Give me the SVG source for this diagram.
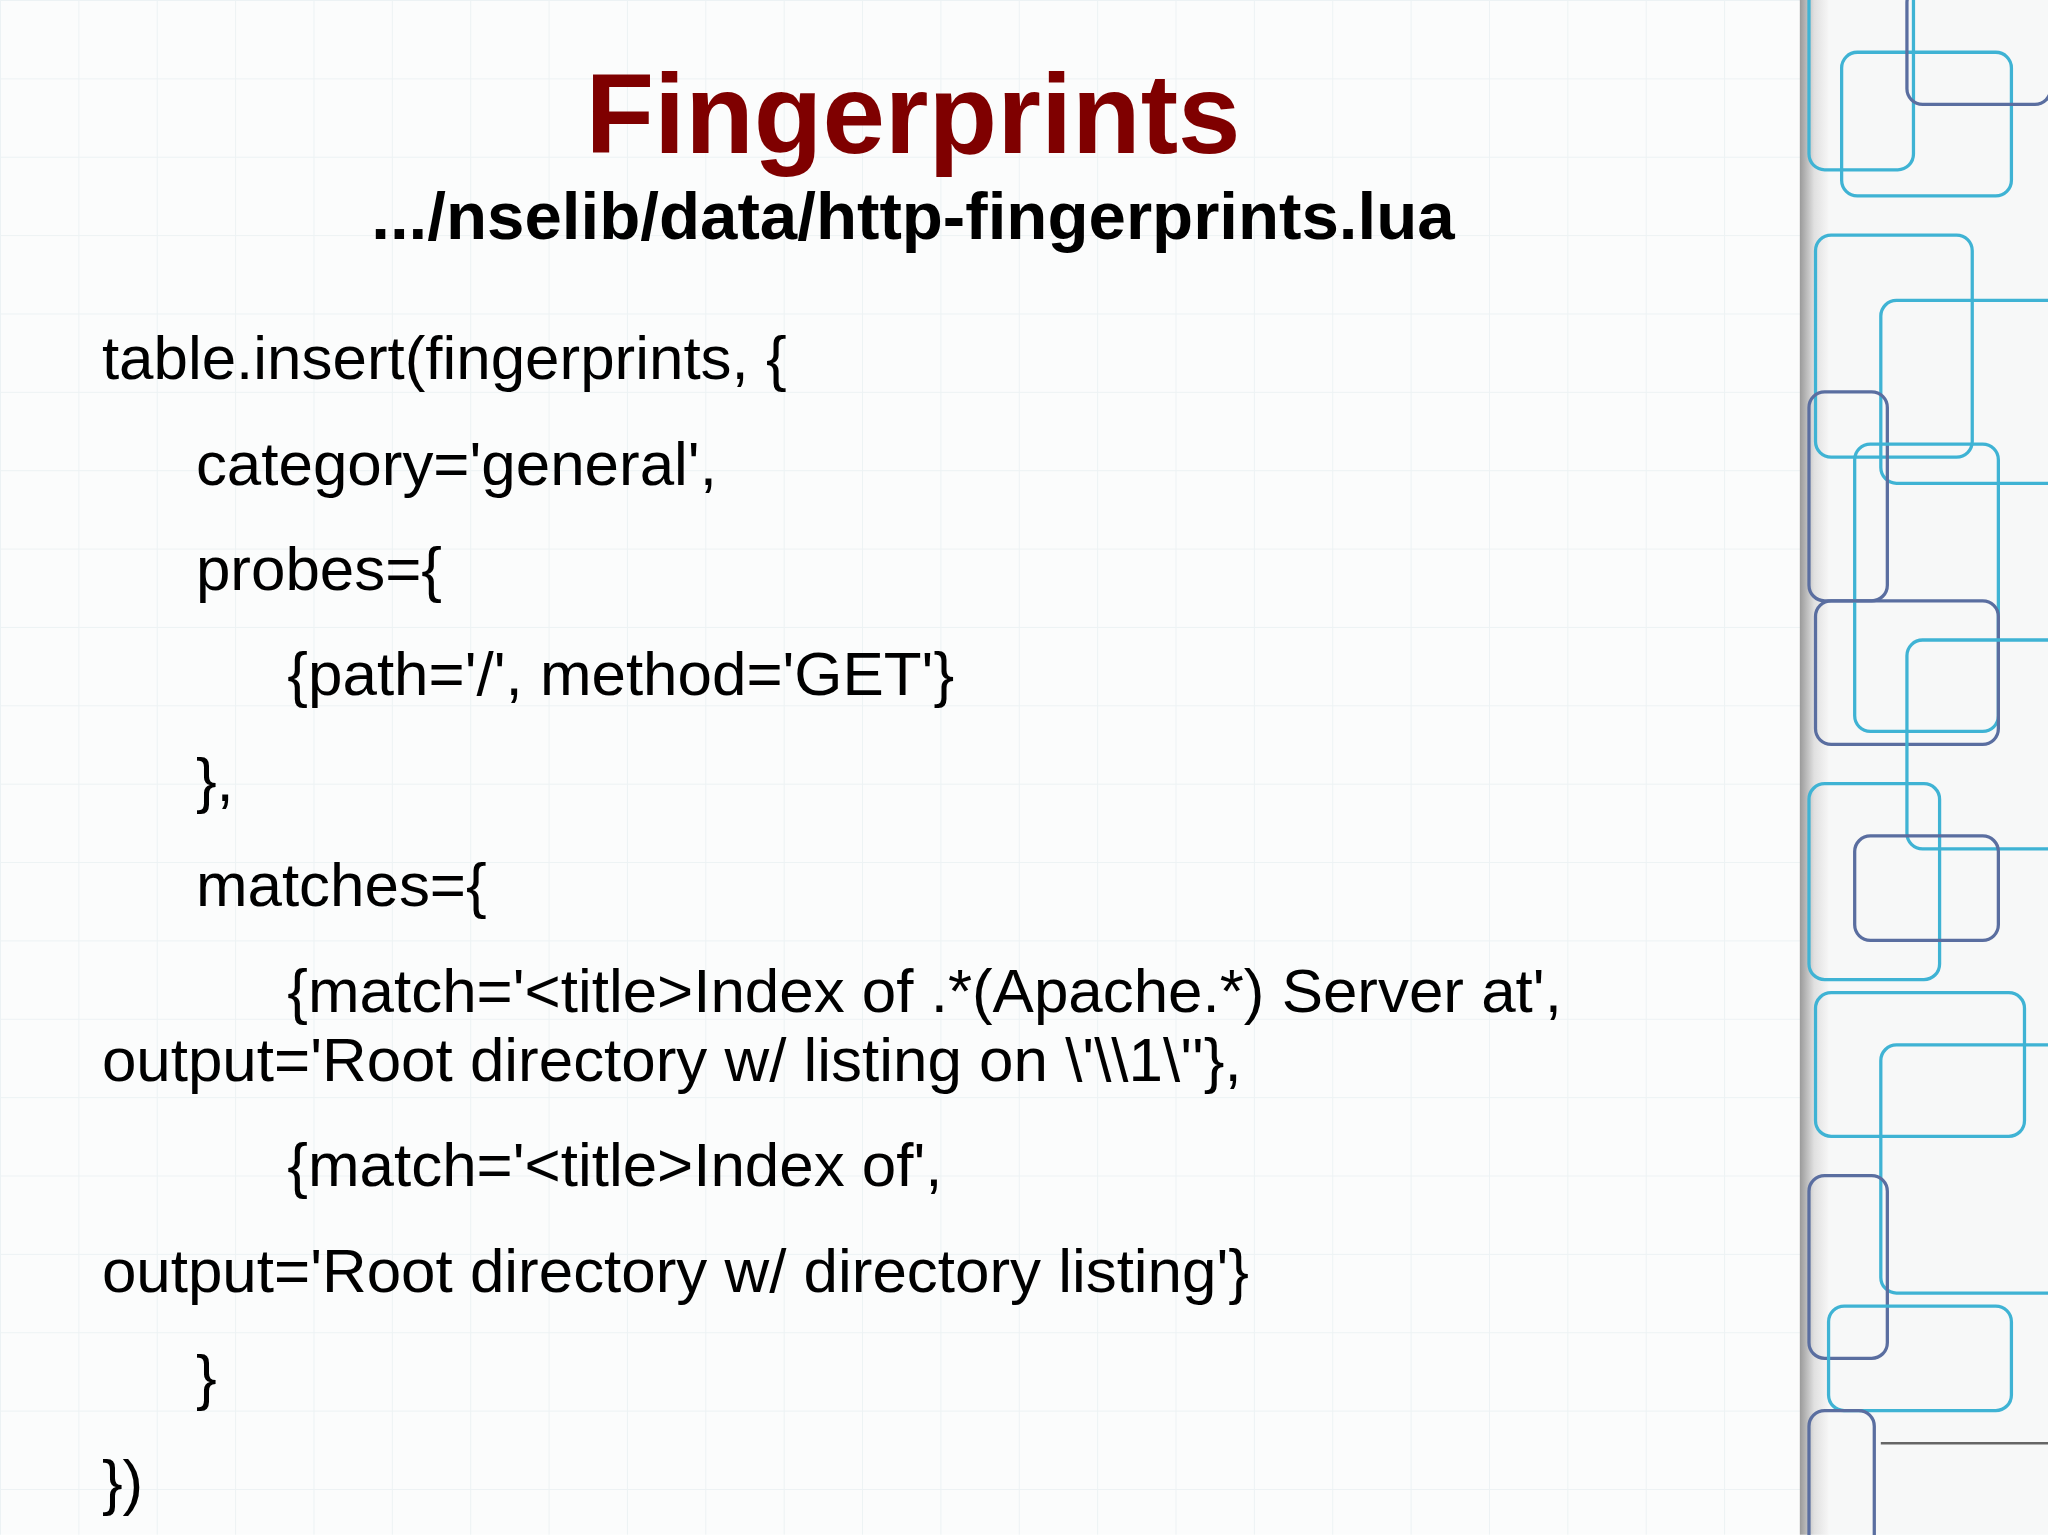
<svg xmlns="http://www.w3.org/2000/svg" width="2048" height="1535" viewBox="0 0 2048 1535">
<defs>
<linearGradient id="sh" x1="0" x2="1" y1="0" y2="0">
<stop offset="0" stop-color="#9a9a9a"/><stop offset="0.5" stop-color="#e0e0e0"/><stop offset="1" stop-color="#f6f6f6"/>
</linearGradient>
<pattern id="grid" width="60" height="60" patternUnits="userSpaceOnUse">
<path d="M0 0H60M0 0V60" stroke="#e6eef0" stroke-width="1.5" fill="none"/>
</pattern>
</defs>
<style>
.t{font-family:"Liberation Sans",Arial,sans-serif;font-size:47.4px;fill:#000}
.bl{fill:none;stroke:#3fb3d4;stroke-width:2.5}
.bd{fill:none;stroke:#5a6ea0;stroke-width:2.5}
</style>
<g transform="scale(1.30612)">
<rect width="1568" height="1175" fill="#fbfcfc"/>
<rect width="1380" height="1175" fill="url(#grid)" opacity="0.7"/>
<g id="panel">
<rect x="1380" width="188" height="1175" fill="#f7f8f8"/>
<rect x="1378" width="22" height="1175" fill="url(#sh)"/>
<rect x="1385" y="-20" width="80" height="150" rx="12" class="bl"/>
<rect x="1410" y="40" width="130" height="110" rx="12" class="bl"/>
<rect x="1460" y="-10" width="110" height="90" rx="12" class="bd"/>
<rect x="1390" y="180" width="120" height="170" rx="12" class="bl"/>
<rect x="1440" y="230" width="140" height="140" rx="12" class="bl"/>
<rect x="1385" y="300" width="60" height="160" rx="12" class="bd"/>
<rect x="1420" y="340" width="110" height="220" rx="12" class="bl"/>
<rect x="1390" y="460" width="140" height="110" rx="12" class="bd"/>
<rect x="1460" y="490" width="120" height="160" rx="12" class="bl"/>
<rect x="1385" y="600" width="100" height="150" rx="12" class="bl"/>
<rect x="1420" y="640" width="110" height="80" rx="12" class="bd"/>
<rect x="1390" y="760" width="160" height="110" rx="12" class="bl"/>
<rect x="1440" y="800" width="140" height="190" rx="12" class="bl"/>
<rect x="1385" y="900" width="60" height="140" rx="12" class="bd"/>
<rect x="1400" y="1000" width="140" height="80" rx="12" class="bl"/>
<rect x="1385" y="1080" width="50" height="120" rx="12" class="bd"/>
<path d="M1440 1105H1568" stroke="#666" stroke-width="2"/>
</g>
<g id="title" font-family="'Liberation Sans',Arial,sans-serif" font-weight="bold" text-anchor="middle">
<text x="699" y="117" font-size="86" fill="#7f0000">Fingerprints</text>
<text x="699" y="183" font-size="51.5" fill="#000">.../nselib/data/http-fingerprints.lua</text>
</g>
<g id="body" class="t">
<text class="t" x="78" y="290">table.insert(fingerprints, {</text>
<text class="t" x="150" y="371">category='general',</text>
<text class="t" x="150" y="452">probes={</text>
<text class="t" x="220" y="532">{path='/', method='GET'}</text>
<text class="t" x="150" y="613">},</text>
<text class="t" x="150" y="694">matches={</text>
<text class="t" x="220" y="775">{match='&lt;title&gt;Index of .*(Apache.*) Server at',</text>
<text class="t" x="78" y="828">output='Root directory w/ listing on \'\\1\''},</text>
<text class="t" x="220" y="908">{match='&lt;title&gt;Index of',</text>
<text class="t" x="78" y="989">output='Root directory w/ directory listing'}</text>
<text class="t" x="150" y="1070">}</text>
<text class="t" x="78" y="1151">})</text>
</g>
</g>
</svg>
